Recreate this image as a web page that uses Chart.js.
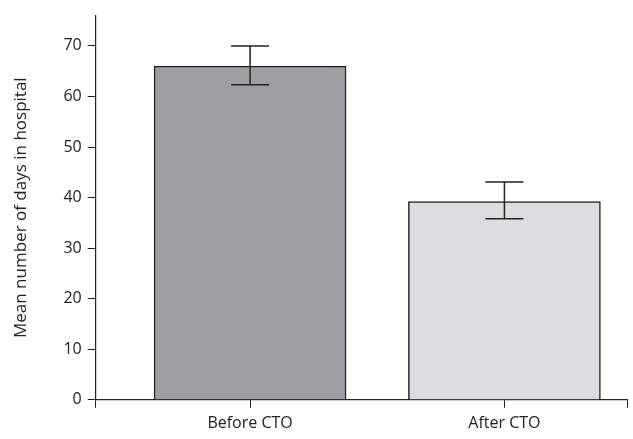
<!DOCTYPE html>
<html><head><meta charset="utf-8">
<script src="https://cdn.jsdelivr.net/npm/chart.js@4"></script>
<style>html,body{margin:0;padding:0;background:#fff}#w{width:633px;height:439px}</style>
</head><body><div id="w"><canvas id="c"></canvas></div>
<script>
const categories=["Before CTO","After CTO"];
const means=[66.0,39.2];
const errLow=[62.3,35.8];
const errHigh=[70.0,43.1];
const yTicks=[0,10,20,30,40,50,60,70];
const X_MIN=-0.607, X_MAX=1.482;
const errPlugin={id:'err',afterDatasetsDraw(ch){const {ctx,scales:{x,y}}=ch;const meta=ch.getDatasetMeta(0);ctx.save();ctx.strokeStyle='#222';ctx.lineWidth=1.5;
meta.data.forEach((b,i)=>{const cx=b.x,t=y.getPixelForValue(errHigh[i]),l=y.getPixelForValue(errLow[i]);ctx.beginPath();ctx.moveTo(cx,t);ctx.lineTo(cx,l);ctx.moveTo(cx-19,t);ctx.lineTo(cx+19,t);ctx.moveTo(cx-19,l);ctx.lineTo(cx+19,l);ctx.stroke();});ctx.restore();}};
new Chart(document.getElementById('c'),{type:'bar',data:{datasets:[{data:means.map((v,i)=>({x:i,y:v})),backgroundColor:['#9d9ea2','#dcdde0'],borderColor:'#222',borderWidth:1.5,barThickness:192}]},
options:{responsive:true,maintainAspectRatio:false,animation:false,layout:{padding:{top:14,right:-5,left:11,bottom:0}},
plugins:{legend:{display:false},tooltip:{enabled:false}},
scales:{x:{type:'linear',min:X_MIN,max:X_MAX,offset:false,afterBuildTicks(s){s.ticks=[{value:X_MIN},{value:0},{value:1},{value:X_MAX}];},
grid:{display:true,offset:false,drawOnChartArea:false,color:'#222',tickLength:8},border:{color:'#222',width:1.2},
ticks:{color:'#222',font:{family:'Open Sans',size:16},padding:6,autoSkip:false,maxRotation:0,callback:(v)=>Number.isInteger(v)&&categories[v]!==undefined?categories[v]:''}},
y:{min:0,max:76,afterBuildTicks(s){s.ticks=yTicks.map(v=>({value:v}));},grid:{drawOnChartArea:false,color:'#222',tickLength:8},border:{color:'#222',width:1.2},ticks:{color:'#222',font:{family:'Open Sans',size:16},padding:6},
title:{display:true,text:'Mean number of days in hospital',color:'#222',font:{family:'Open Sans',size:17},padding:{top:0,bottom:26}}}}},plugins:[errPlugin]});
</script></body></html>
